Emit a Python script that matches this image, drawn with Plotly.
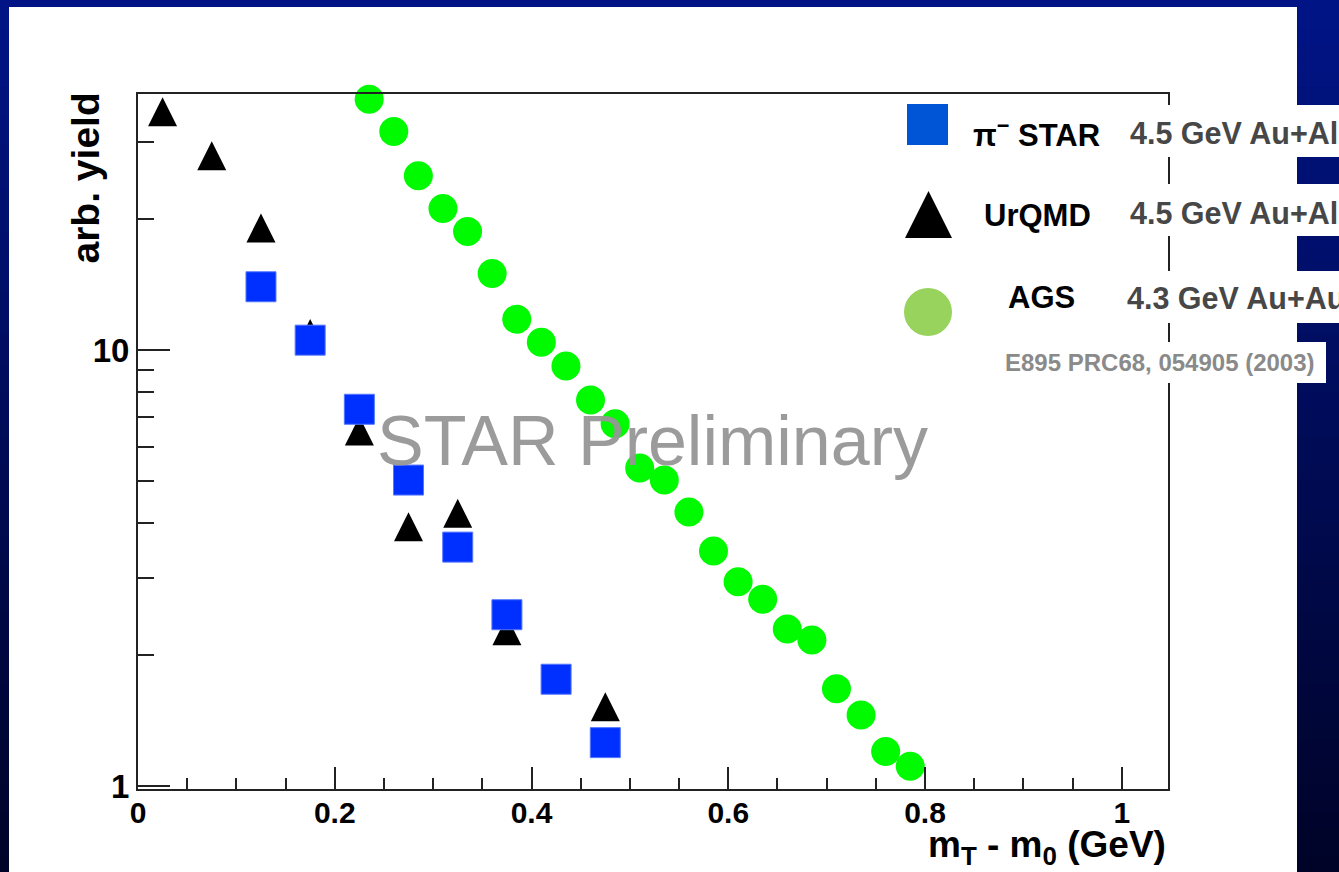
import plotly.graph_objects as go

# ---------------- data ----------------
star_x = [0.125, 0.175, 0.225, 0.275, 0.325, 0.375, 0.425, 0.475]
star_y = [13.96, 10.53, 7.31, 5.03, 3.53, 2.47, 1.757, 1.257]

urqmd_x = [0.025, 0.075, 0.125, 0.175, 0.225, 0.275, 0.325, 0.375, 0.475]
urqmd_y = [35.2, 27.9, 19.05, 10.9, 6.52, 3.93, 4.22, 2.27, 1.52]

ags_x = [0.235, 0.260, 0.285, 0.310, 0.335, 0.360, 0.385, 0.410, 0.435, 0.460,
         0.485, 0.510, 0.535, 0.560, 0.585, 0.610, 0.635, 0.660, 0.685, 0.710,
         0.735, 0.760, 0.785]
ags_y = [37.6, 31.7, 25.1, 21.1, 18.7, 14.98, 11.76, 10.42, 9.19, 7.68,
         6.77, 5.36, 5.03, 4.25, 3.46, 2.94, 2.68, 2.29, 2.16, 1.67,
         1.455, 1.20, 1.11]

x_tickvals = [0, 0.2, 0.4, 0.6, 0.8, 1.0]
x_ticktext = ["0", "0.2", "0.4", "0.6", "0.8", "1"]
y_tickvals = [1, 10]
y_ticktext = ["1", "10"]
y_minor_vals = [2, 3, 4, 5, 6, 7, 8, 9, 20, 30]

legend_labels = ["π<sup>−</sup> STAR", "UrQMD", "AGS"]
legend_notes = ["4.5 GeV Au+Al", "4.5 GeV Au+Al", "4.3 GeV Au+Au"]
reference_note = "E895 PRC68, 054905 (2003)"
watermark = "STAR Preliminary"

# ---------------- geometry ----------------
FW, FH = 1339, 872
L, R, T, B = 138, 1168, 94, 789
W, H = R - L, B - T
PX_PER_DECADE = 436.0
TRI_SIZE = 29

def px_x(p):
    return (p - L) / W

def px_y(p):
    return (B - p) / H

FONT = "Liberation Sans, Arial, Helvetica, sans-serif"

# arrow-up symbol has its apex on the data point; shift so the triangle is centred on the value
tri_shift = 10 ** ((TRI_SIZE / 2) / PX_PER_DECADE)
urqmd_plot_y = [v * tri_shift for v in urqmd_y]

fig = go.Figure()
fig.add_trace(go.Scatter(
    x=urqmd_x, y=urqmd_plot_y, mode="markers", name="UrQMD",
    marker=dict(symbol="arrow-up", size=TRI_SIZE, color="black", line=dict(width=0)),
    cliponaxis=False))
fig.add_trace(go.Scatter(
    x=ags_x, y=ags_y, mode="markers", name="AGS",
    marker=dict(symbol="circle", size=29, color="#00fa00", line=dict(width=0)),
    cliponaxis=False))
fig.add_trace(go.Scatter(
    x=star_x, y=star_y, mode="markers", name="STAR",
    marker=dict(symbol="square", size=30, color="#0030ff",
                line=dict(width=1, color="#5577ff")),
    cliponaxis=False))

shapes = []
# gradient background
N = 60
top_c = (0, 20, 134)
bot_c = (0, 3, 40)
for i in range(N):
    f = i / (N - 1)
    c = tuple(int(round(top_c[k] + (bot_c[k] - top_c[k]) * f)) for k in range(3))
    y0 = FH * i / N
    y1 = FH * (i + 1) / N + 1
    shapes.append(dict(type="rect", xref="paper", yref="paper", layer="below",
                       x0=px_x(0), x1=px_x(FW), y0=px_y(y1), y1=px_y(y0),
                       fillcolor="rgb(%d,%d,%d)" % c, line=dict(width=0)))
# white panel
shapes.append(dict(type="rect", xref="paper", yref="paper", layer="below",
                   x0=px_x(9), x1=px_x(1297), y0=px_y(FH + 2), y1=px_y(7),
                   fillcolor="white", line=dict(width=0)))
# white boxes behind legend notes (cover the frame)
for (ya, yb) in [(105, 157), (184, 236), (271, 323)]:
    shapes.append(dict(type="rect", xref="paper", yref="paper", layer="above",
                       x0=px_x(1124), x1=px_x(FW + 2), y0=px_y(yb), y1=px_y(ya),
                       fillcolor="white", line=dict(width=0)))
shapes.append(dict(type="rect", xref="paper", yref="paper", layer="above",
                   x0=px_x(1000), x1=px_x(1326), y0=px_y(383), y1=px_y(342),
                   fillcolor="white", line=dict(width=0)))
# legend symbols
shapes.append(dict(type="rect", xref="paper", yref="paper", layer="above",
                   x0=px_x(907), x1=px_x(948), y0=px_y(145), y1=px_y(104),
                   fillcolor="#0055d6", line=dict(width=0)))
shapes.append(dict(type="path", xref="paper", yref="paper", layer="above",
                   path="M %f,%f L %f,%f L %f,%f Z" % (px_x(928.5), px_y(191), px_x(905), px_y(238),
                                                       px_x(952), px_y(238)),
                   fillcolor="black", line=dict(width=0)))
shapes.append(dict(type="circle", xref="paper", yref="paper", layer="above",
                   x0=px_x(904), x1=px_x(952), y0=px_y(336), y1=px_y(288),
                   fillcolor="#98d35e", line=dict(width=0)))

annotations = []
lab_pos = [(971, 133), (982, 215), (1006, 297)]
for txt, (xx, yy) in zip(legend_labels, lab_pos):
    annotations.append(dict(text=txt, xref="paper", yref="paper", x=px_x(xx), y=px_y(yy),
                            xanchor="left", yanchor="middle", showarrow=False,
                            font=dict(family=FONT, size=31, color="black", weight="bold")))
note_pos = [(1128, 133), (1128, 213), (1125, 298)]
for txt, (xx, yy) in zip(legend_notes, note_pos):
    annotations.append(dict(text=txt, xref="paper", yref="paper", x=px_x(xx), y=px_y(yy),
                            xanchor="left", yanchor="middle", showarrow=False,
                            font=dict(family=FONT, size=30.5, color="#474747", weight="bold")))
annotations.append(dict(text=reference_note, xref="paper", yref="paper", x=px_x(1003), y=px_y(362),
                        xanchor="left", yanchor="middle", showarrow=False,
                        font=dict(family=FONT, size=24, color="#8a8a8a", weight="bold")))
annotations.append(dict(text=watermark, xref="paper", yref="paper", x=px_x(652), y=px_y(441),
                        xanchor="center", yanchor="middle", showarrow=False,
                        font=dict(family=FONT, size=70, color="rgba(150,150,150,0.95)")))
annotations.append(dict(text="m<sub>T</sub> - m<sub>0</sub> (GeV)", xref="paper", yref="paper",
                        x=px_x(1168), y=px_y(847), xanchor="right", yanchor="middle",
                        showarrow=False,
                        font=dict(family=FONT, size=37, color="black", weight="bold")))
annotations.append(dict(text="arb. yield", xref="paper", yref="paper", textangle=-90,
                        x=px_x(85), y=px_y(91), xanchor="center", yanchor="top",
                        showarrow=False,
                        font=dict(family=FONT, size=39, color="black", weight="bold")))

fig.update_layout(
    width=FW, height=FH, autosize=False,
    margin=dict(l=L, r=FW - R, t=T, b=FH - B, pad=0),
    paper_bgcolor="rgb(0,10,80)", plot_bgcolor="rgba(0,0,0,0)",
    showlegend=False, shapes=shapes, annotations=annotations,
    font=dict(family=FONT),
)
fig.update_xaxes(
    range=[0, 1.047], showgrid=False, zeroline=False,
    showline=True, linecolor="#222", linewidth=2, mirror=True,
    tickmode="array", tickvals=x_tickvals, ticktext=x_ticktext,
    ticks="inside", ticklen=22, tickwidth=2, tickcolor="#222",
    ticklabelstandoff=-4,
    minor=dict(ticks="inside", dtick=0.05, tick0=0, ticklen=11, tickwidth=2, tickcolor="#222",
               showgrid=False),
    tickfont=dict(family=FONT, size=30, color="black", weight="bold"),
)
fig.update_yaxes(
    type="log", range=[-0.007, 1.587], showgrid=False, zeroline=False,
    showline=True, linecolor="#222", linewidth=2, mirror=True,
    tickmode="array", tickvals=y_tickvals, ticktext=y_ticktext,
    ticks="inside", ticklen=32, tickwidth=2, tickcolor="#222",
    minor=dict(ticks="inside", tickmode="array", tickvals=y_minor_vals, ticklen=16,
               tickwidth=2, tickcolor="#222", showgrid=False),
    tickfont=dict(family=FONT, size=33, color="black", weight="bold"),
)

fig.write_html("out.html", config={"displayModeBar": False},
               post_script="document.body.style.margin='0px';")
